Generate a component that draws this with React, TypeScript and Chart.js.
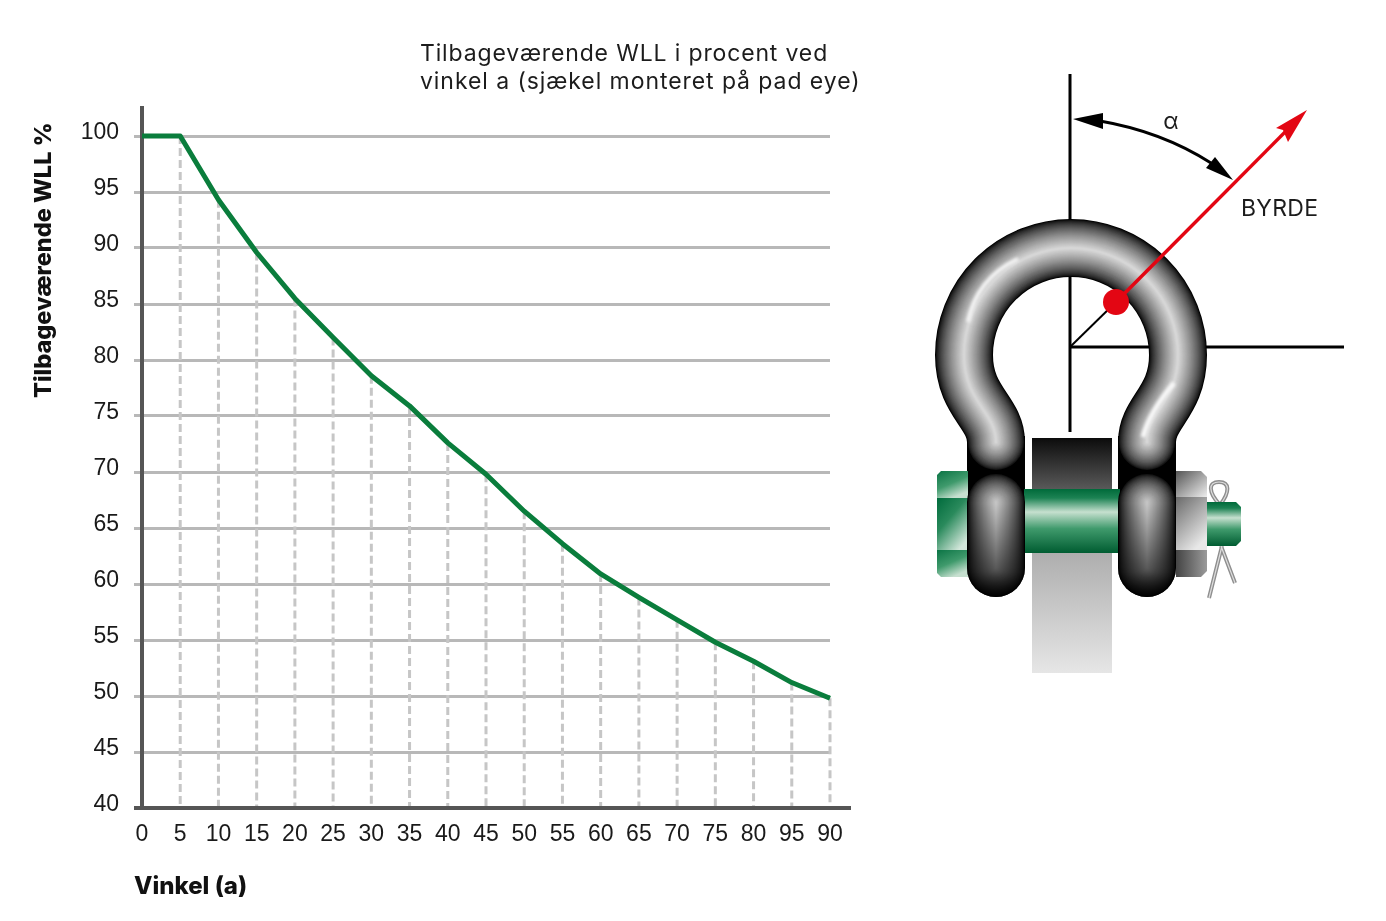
import { useEffect, useRef } from "react";
import { Chart, registerables, type Plugin } from "chart.js";

Chart.register(...registerables);

// the source really does print 95 before 90 at the end of the axis
const angleLabels = ["0", "5", "10", "15", "20", "25", "30", "35", "40", "45", "50", "55", "60", "65", "70", "75", "80", "95", "90"];
const remainingWll = [100, 100, 94.3, 89.6, 85.5, 82, 78.6, 75.9, 72.6, 69.8, 66.5, 63.6, 60.9, 58.8, 56.8, 54.8, 53.1, 51.2, 49.8];
const yTicks = [40, 45, 50, 55, 60, 65, 70, 75, 80, 85, 90, 95, 100];
const titleLines = ["Tilbageværende WLL i procent ved", "vinkel a (sjækel monteret på pad eye)"];
const yAxisTitle = "Tilbageværende WLL %";
const xAxisTitle = "Vinkel (a)";

const WIDTH = 1386;
const HEIGHT = 921;
const TEXT_FONT = "Inter";

const chartDecorations: Plugin<"line"> = {
  id: "chartDecorations",
  beforeDatasetsDraw(chart) {
    const { ctx, scales, chartArea } = chart;
    ctx.save();
    // dashed drop lines from the curve to the axis
    ctx.strokeStyle = "#c6c6c6";
    ctx.lineWidth = 3;
    ctx.setLineDash([8, 4]);
    remainingWll.forEach((value, index) => {
      if (index === 0) return;
      const x = scales.x.getPixelForValue(index);
      ctx.beginPath();
      ctx.moveTo(x, scales.y.getPixelForValue(value));
      ctx.lineTo(x, chartArea.bottom);
      ctx.stroke();
    });
    ctx.setLineDash([]);
    // the x axis sticks out on both sides of the plot
    ctx.strokeStyle = "#555555";
    ctx.lineWidth = 4;
    ctx.beginPath();
    ctx.moveTo(134, chartArea.bottom);
    ctx.lineTo(851, chartArea.bottom);
    ctx.stroke();
    ctx.restore();
  },
  afterDraw(chart) {
    const { ctx } = chart;
    ctx.save();
    ctx.fillStyle = "#1c1c1c";
    ctx.textBaseline = "alphabetic";
    ctx.textAlign = "left";
    ctx.font = `400 23px ${TEXT_FONT}`;
    (ctx as any).letterSpacing = "0.85px";
    ctx.fillText(titleLines[0], 420, 61);
    (ctx as any).letterSpacing = "0.93px";
    ctx.fillText(titleLines[1], 420, 89);
    (ctx as any).letterSpacing = "0px";
    ctx.fillStyle = "#111111";
    ctx.font = `800 24px ${TEXT_FONT}`;
    ctx.fillText(xAxisTitle, 134, 894);
    ctx.font = `800 23.5px ${TEXT_FONT}`;
    ctx.translate(50.5, 398);
    ctx.rotate(-Math.PI / 2);
    ctx.fillText(yAxisTitle, 0, 0);
    ctx.restore();
  },
};

// a round bar shaded by stacking narrower and lighter strokes
function Tube({ d, width, light = 214 }: { d: string; width: number; light?: number }) {
  const steps = Math.floor(width / 2);
  return (
    <g fill="none" strokeLinecap="round" strokeLinejoin="round">
      {Array.from({ length: steps }, (_, i) => {
        const t = i / (steps - 1);
        const grey = Math.round(light * Math.pow(t, 0.7));
        return <path key={i} d={d} stroke={`rgb(${grey},${grey},${grey})`} strokeWidth={width - i * 2} />;
      })}
    </g>
  );
}

function Eye({ x }: { x: number }) {
  return (
    <g>
      <Tube d={`M${x + 29} 502 V568`} width={58} light={205} />
      <rect x={x} y={473} width={58} height={124} rx={29} fill="url(#eyeV)" />
    </g>
  );
}

function Shackle() {
  const bow = "M996 442 C996 412 964 402 964 355 A107 107 0 0 1 1178 355 C1178 402 1147 412 1147 442";
  return (
    <svg
      width={WIDTH}
      height={HEIGHT}
      style={{ position: "absolute", left: 0, top: 0, pointerEvents: "none" }}
    >
      <defs>
        <linearGradient id="plate" x1="0" y1="0" x2="0" y2="1">
          <stop offset="0" stopColor="#0c0c0c" />
          <stop offset="0.22" stopColor="#5a5a5a" />
          <stop offset="0.49" stopColor="#aeaeae" />
          <stop offset="1" stopColor="#e6e6e6" />
        </linearGradient>
        <linearGradient id="pin" x1="0" y1="0" x2="0" y2="1">
          <stop offset="0" stopColor="#006a3a" />
          <stop offset="0.14" stopColor="#1c8253" />
          <stop offset="0.36" stopColor="#c6e0cf" />
          <stop offset="0.62" stopColor="#3f9a6c" />
          <stop offset="1" stopColor="#005c31" />
        </linearGradient>
        <linearGradient id="headTop" x1="0" y1="0" x2="0.5" y2="1">
          <stop offset="0" stopColor="#0b7445" />
          <stop offset="0.55" stopColor="#3f9a6c" />
          <stop offset="1" stopColor="#c6dfcf" />
        </linearGradient>
        <linearGradient id="headMid" x1="0" y1="0" x2="0.7" y2="1">
          <stop offset="0" stopColor="#006b3c" />
          <stop offset="0.45" stopColor="#2a8a5c" />
          <stop offset="1" stopColor="#d3e7db" />
        </linearGradient>
        <linearGradient id="nutTop" x1="0" y1="0" x2="1" y2="1">
          <stop offset="0" stopColor="#555555" />
          <stop offset="1" stopColor="#eeeeee" />
        </linearGradient>
        <linearGradient id="nutMid" x1="0" y1="0" x2="0.6" y2="1">
          <stop offset="0" stopColor="#6a6a6a" />
          <stop offset="1" stopColor="#e8e8e8" />
        </linearGradient>
        <linearGradient id="nutLow" x1="0" y1="0" x2="1" y2="0">
          <stop offset="0" stopColor="#444444" />
          <stop offset="1" stopColor="#9a9a9a" />
        </linearGradient>
        <linearGradient id="eyeV" x1="0" y1="0" x2="0" y2="1">
          <stop offset="0" stopColor="#000" stopOpacity="0" />
          <stop offset="0.25" stopColor="#000" stopOpacity="0.05" />
          <stop offset="0.8" stopColor="#000" stopOpacity="0.6" />
          <stop offset="1" stopColor="#000" stopOpacity="0.9" />
        </linearGradient>
        <filter id="soft" x="-30%" y="-30%" width="160%" height="160%">
          <feGaussianBlur stdDeviation="1.5" />
        </filter>
      </defs>

      {/* reference lines behind the shackle */}
      <path d="M1070 74 V432 M1070 347 H1344" stroke="#000" strokeWidth={3} fill="none" />
      <path d="M1070 347 L1116 302" stroke="#000" strokeWidth={2} fill="none" />

      {/* plate */}
      <rect x={1032} y={438} width={80} height={235} fill="url(#plate)" />

      {/* dark sockets where the bow meets the eyes */}
      <rect x={967} y={436} width={58} height={70} fill="#000" />
      <rect x={1118} y={436} width={58} height={70} fill="#000" />

      <Tube d={bow} width={58} />
      <path d="M968 322 C974 292 990 272 1018 259" stroke="#f4f4f4" strokeWidth={4} fill="none" filter="url(#soft)" />
      <path d="M1143 437 C1148 418 1158 402 1174 383" stroke="#f8f8f8" strokeWidth={5} fill="none" filter="url(#soft)" />

      {/* bolt head, pin, nut */}
      <path d="M941 471 H968 V498 H937 V475 Z" fill="url(#headTop)" />
      <path d="M937 498 H968 V550 H937 Z" fill="url(#headMid)" />
      <path d="M937 550 H968 V577 H941 L937 573 Z" fill="url(#headTop)" />
      <rect x={1024} y={489} width={96} height={64} fill="url(#pin)" />

      <path d="M1176 471 H1201 L1207 477 V497 H1176 Z" fill="url(#nutTop)" />
      <path d="M1176 497 H1207 V550 H1176 Z" fill="url(#nutMid)" />
      <path d="M1176 550 H1207 V571 L1201 577 H1176 Z" fill="url(#nutLow)" />

      {/* cotter pin */}
      <g fill="none" stroke="#8e8e8e" strokeWidth={4}>
        <path d="M1220 505 C1208 492 1208 482 1219 482 C1230 482 1230 492 1220 505" />
        <path d="M1222 546 L1209 598 M1221 546 L1235 583" />
      </g>
      <g fill="none" stroke="#dddddd" strokeWidth={1.2}>
        <path d="M1220 505 C1208 492 1208 482 1219 482 C1230 482 1230 492 1220 505" />
        <path d="M1222 546 L1209 598 M1221 546 L1235 583" />
      </g>

      <path d="M1207 502 H1236 L1241 507 V541 L1236 546 H1207 Z" fill="url(#pin)" />

      <Eye x={967} />
      <Eye x={1118} />

      {/* load arrow */}
      <path d="M1116 302 L1295 122" stroke="#e30613" strokeWidth={3.5} fill="none" />
      <path d="M1307 110 L1288 142 L1283 130 L1276 128 Z" fill="#e30613" />
      <circle cx={1116} cy={302} r={13} fill="#e30613" />

      {/* angle arc */}
      <path d="M1100 121 C1135 127 1175 140 1211 163" stroke="#000" strokeWidth={3} fill="none" />
      <path d="M1073 119 L1103 113 L1103 129 Z" fill="#000" />
      <path d="M1233 180 L1215 157 L1206 168 Z" fill="#000" />

      <text x={1171} y={129} textAnchor="middle" fontFamily={TEXT_FONT} fontSize={23} fill="#1c1c1c">
        α
      </text>
      <text x={1241} y={216} fontFamily={TEXT_FONT} fontSize={23} letterSpacing={0.3} fill="#1c1c1c">
        BYRDE
      </text>
    </svg>
  );
}

export default function App() {
  const canvasRef = useRef<HTMLCanvasElement | null>(null);

  useEffect(() => {
    const canvasElement = canvasRef.current;
    if (!canvasElement) {
      return;
    }

    document.body.style.margin = "0";
    document.body.style.background = "#ffffff";

    const chart = new Chart(canvasElement, {
      type: "line",
      data: {
        labels: angleLabels,
        datasets: [
          {
            data: remainingWll,
            borderColor: "#0a7d3c",
            borderWidth: 5,
            borderJoinStyle: "round",
            tension: 0,
            pointRadius: 0,
            fill: false,
            clip: false,
          },
        ],
      },
      options: {
        animation: false,
        responsive: false,
        devicePixelRatio: 1,
        layout: { padding: { left: 0, top: 108, right: 556, bottom: 0 } },
        scales: {
          x: {
            type: "category",
            offset: false,
            afterFit(scale) {
              scale.height = 113;
            },
            grid: { display: false },
            border: { display: false },
            ticks: {
              autoSkip: false,
              maxRotation: 0,
              padding: 5,
              color: "#1a1a1a",
              font: { family: "Liberation Sans", size: 23 },
            },
          },
          y: {
            type: "linear",
            min: 40,
            max: 102.5,
            afterFit(scale) {
              scale.width = 142;
            },
            afterBuildTicks(scale) {
              scale.ticks = yTicks.map((value) => ({ value }));
            },
            grid: {
              color: "#b8b8b8",
              lineWidth: 3,
              tickLength: 8,
              tickColor: "#b8b8b8",
            },
            border: { color: "#555555", width: 4 },
            ticks: {
              padding: 15,
              labelOffset: -3,
              color: "#1a1a1a",
              font: { family: "Liberation Sans", size: 23 },
            },
          },
        },
        plugins: {
          legend: { display: false },
          title: { display: false },
          tooltip: { enabled: false },
        },
      },
      plugins: [chartDecorations],
    });

    return () => {
      chart.destroy();
    };
  }, []);

  return (
    <div style={{ position: "absolute", left: 0, top: 0, width: WIDTH, height: HEIGHT, background: "#fff" }}>
      <canvas ref={canvasRef} width={WIDTH} height={HEIGHT} style={{ display: "block" }} />
      <Shackle />
    </div>
  );
}
